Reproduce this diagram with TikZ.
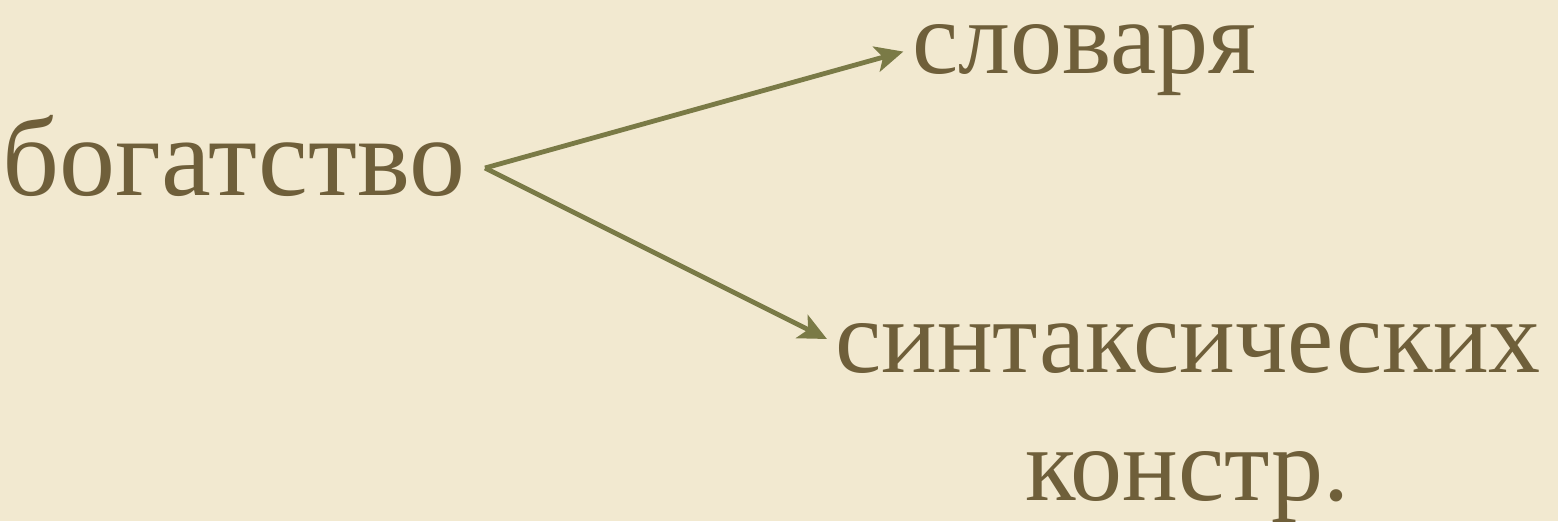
\documentclass[tikz,border=0pt]{standalone}
\usepackage{fontspec}
\setmainfont{Liberation Serif}
\usetikzlibrary{arrows.meta, positioning}
\definecolor{paper}{HTML}{F2E9D0}
\definecolor{ink}{HTML}{6F5F3A}
\definecolor{olive}{HTML}{7A7A46}

\begin{document}
\begin{tikzpicture}[
    x=0.5pt, y=-0.5pt,
    word/.style={
        text=ink,
        inner sep=0pt,
        anchor=base west,
        font=\fontsize{52}{56}\selectfont
    },
    arr/.style={
        -{Stealth[length=14pt, width=13pt, inset=3.5pt]},
        draw=olive,
        line width=2.4pt,
        shorten >=4.5pt
    }
]
    \fill[paper] (0,0) rectangle (1558,521);
    \useasboundingbox (0,0) rectangle (1558,521);

    \node[word, font=\fontsize{56}{60}\selectfont] (src) at (2,195) {богатство};
    \node[word] (dict) at (912,73) {словаря};
    \node[word] (syn) at (835,372) {синтаксических};
    \node[word] (cons) at (1025,500) {констр.};

    \coordinate (fork) at (485,168);

    \draw[arr] (fork) -- ([yshift=5.2pt]dict.west);
    \draw[arr] (fork) -- ([yshift=2.5pt]syn.west);
\end{tikzpicture}
\end{document}
